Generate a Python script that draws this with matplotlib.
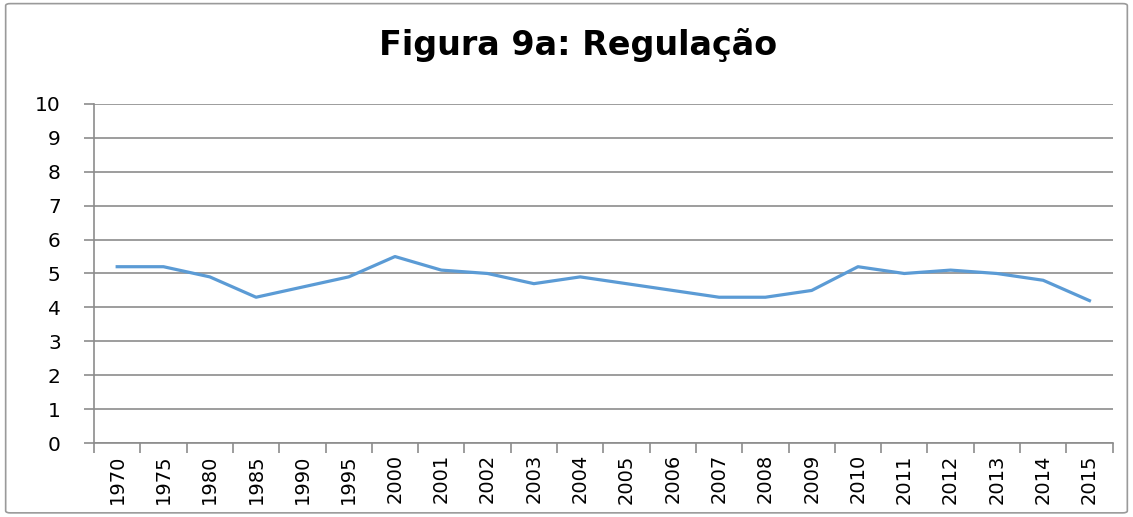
import matplotlib.pyplot as plt
from matplotlib.patches import FancyBboxPatch

# data
years = ['1970', '1975', '1980', '1985', '1990', '1995', '2000', '2001', '2002',
         '2003', '2004', '2005', '2006', '2007', '2008', '2009', '2010', '2011',
         '2012', '2013', '2014', '2015']
regulacao = [5.2, 5.2, 4.9, 4.3, 4.6, 4.9, 5.5, 5.1, 5.0, 4.7, 4.9, 4.7, 4.5,
             4.3, 4.3, 4.5, 5.2, 5.0, 5.1, 5.0, 4.8, 4.2]
y_ticks = list(range(0, 11))

plt.rcParams['font.family'] = ['DejaVu Sans']

fig = plt.figure(figsize=(11.33, 5.17), dpi=100)
ax = fig.add_axes([0.083, 0.143, 0.899, 0.656])

grid_col = '#8c8c8c'
x = list(range(len(years)))
ax.plot(x, regulacao, color='#5B9BD5', lw=2.3, solid_joinstyle='round', zorder=3)

ax.set_xlim(-0.5, len(years) - 0.5)
ax.set_ylim(0, 10)
ax.set_yticks(y_ticks)
ax.set_yticklabels([str(v) for v in y_ticks], fontsize=14.5)
ax.yaxis.grid(True, color=grid_col, lw=1.2)
ax.set_axisbelow(True)

# excel style: ticks between categories, labels at centres
ax.set_xticks([i - 0.5 for i in range(len(years) + 1)])
ax.set_xticklabels([])
ax.set_xticks(x, minor=True)
ax.set_xticklabels(years, minor=True, rotation=90, fontsize=14)
ax.tick_params(axis='x', which='major', length=7, color=grid_col, width=1.2)
ax.tick_params(axis='x', which='minor', length=0, pad=8)
ax.tick_params(axis='y', length=7, color=grid_col, width=1.2, pad=17)

for s in ['top', 'right']:
    ax.spines[s].set_visible(False)
for s in ['left', 'bottom']:
    ax.spines[s].set_color(grid_col)
    ax.spines[s].set_linewidth(1.2)

fig.text(0.51, 0.893, 'Figura 9a: Regulação', ha='center', va='baseline',
         fontsize=24, fontweight='bold')

# outer chart border
border = FancyBboxPatch((0.005, 0.008), 0.99, 0.985, transform=fig.transFigure,
                        boxstyle='round,pad=0,rounding_size=0.004',
                        fill=False, edgecolor='#9a9a9a', lw=1.2)
fig.patches.append(border)

fig.savefig('out.png', dpi=100)
